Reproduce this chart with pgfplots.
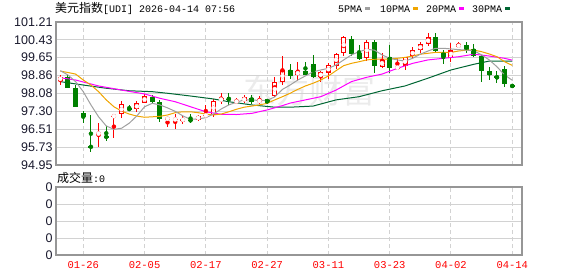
\documentclass[border=0pt]{standalone}
\usepackage{pgfplots}
\pgfplotsset{compat=1.18}
\usepackage{pgfplotstable}
\usepackage{fontspec}
\setmainfont{Liberation Sans}
\newfontfamily\cjk{Noto Sans CJK SC}
\newfontfamily\mono{Liberation Mono}
\definecolor{cred}{RGB}{255,0,0}
\definecolor{cgreen}{RGB}{0,128,0}
\definecolor{ma5}{RGB}{160,160,160}
\definecolor{ma10}{RGB}{240,165,0}
\definecolor{ma20}{RGB}{255,0,255}
\definecolor{ma30}{RGB}{0,102,51}
\definecolor{gridc}{RGB}{210,210,210}
\definecolor{framec}{RGB}{150,150,150}
\definecolor{tickc}{RGB}{25,25,45}

\pgfplotstableread{
i o h l c
0 98.63 98.89 98.45 98.82
5 96.31 96.78 95.75 96.34
7 97.08 97.12 96.14 97.10
8 97.17 97.77 96.99 97.61
10 97.39 97.77 97.28 97.65
11 97.68 98.04 97.65 97.97
14 96.96 97.00 96.63 96.99
15 96.94 97.17 96.51 96.95
16 96.92 97.10 96.75 96.94
18 96.93 97.16 96.86 97.10
19 97.10 97.56 97.06 97.14
20 97.16 97.84 97.06 97.74
21 97.76 98.12 97.60 97.87
23 97.72 97.90 97.60 97.74
24 97.74 98.00 97.68 97.91
26 97.71 97.97 97.62 97.80
28 97.97 98.79 97.91 98.58
29 98.58 99.72 98.47 99.11
31 98.88 99.46 98.62 99.06
34 98.80 99.08 98.58 99.00
35 98.97 99.40 98.73 99.31
36 99.30 99.84 99.17 99.81
37 99.87 100.61 99.71 100.55
40 99.63 100.42 99.52 100.32
42 99.26 99.84 99.18 99.55
44 99.17 99.63 99.14 99.26
45 99.29 99.69 99.11 99.66
46 99.72 100.10 99.58 99.98
47 99.98 100.33 99.87 100.23
48 100.25 100.72 100.16 100.54
51 99.63 100.30 99.47 100.00
52 100.10 100.33 100.07 100.24
}\up

\pgfplotstableread{
i o h l c
1 98.79 98.88 98.32 98.34
2 98.31 98.45 97.48 97.50
3 97.21 97.33 96.80 97.06
4 95.76 97.14 95.50 95.73
6 96.20 96.66 96.02 96.16
9 97.43 97.57 97.31 97.36
12 97.94 98.02 97.60 97.72
13 97.72 97.79 96.83 96.95
17 96.92 97.17 96.80 96.89
22 97.85 98.12 97.57 97.82
25 97.88 98.03 97.62 97.72
27 97.83 97.86 97.60 97.67
30 99.11 99.37 98.70 98.84
32 99.07 99.46 98.90 98.90
33 99.38 99.77 98.75 98.79
38 100.45 100.58 99.71 99.83
39 99.85 100.21 99.56 99.59
41 100.32 100.40 98.99 99.28
43 99.68 100.20 99.00 99.21
49 100.54 100.72 99.87 99.96
50 99.91 99.98 99.37 99.66
53 100.21 100.35 99.84 100.00
54 100.01 100.23 99.68 99.73
55 99.72 99.77 98.57 99.08
56 99.08 99.25 98.67 98.88
57 98.85 99.05 98.52 98.74
58 99.17 99.28 98.35 98.50
59 98.44 98.44 98.38 98.38
}\down

\begin{document}
\begin{tikzpicture}
\path[use as bounding box] (0pt,0pt) rectangle (578pt,276pt);
% watermark
\node[anchor=center, text=black!8, font=\cjk\fontsize{33}{33}\selectfont, inner sep=0] at (309pt,185pt) {东方财富};
% title
\node[anchor=west, inner sep=0] at (55pt,267.3pt) {{\cjk\fontsize{12}{12}\selectfont 美元指数}{\mono\fontsize{10}{10}\selectfont[UDI] 2026-04-14 07:56}};
% legend
\node[anchor=west, inner sep=0, font=\mono\fontsize{10}{10}\selectfont] at (338pt,267pt) {5PMA};
\draw[ma5, line width=3pt] (365pt,267pt) -- (370pt,267pt);
\node[anchor=west, inner sep=0, font=\mono\fontsize{10}{10}\selectfont] at (380pt,267pt) {10PMA};
\draw[ma10, line width=3pt] (413pt,267pt) -- (418pt,267pt);
\node[anchor=west, inner sep=0, font=\mono\fontsize{10}{10}\selectfont] at (426pt,267pt) {20PMA};
\draw[ma20, line width=3pt] (459pt,267pt) -- (464pt,267pt);
\node[anchor=west, inner sep=0, font=\mono\fontsize{10}{10}\selectfont] at (472pt,267pt) {30PMA};
\draw[ma30, line width=3pt] (505pt,267pt) -- (510pt,267pt);
% volume title
\node[anchor=west, inner sep=0] at (57pt,98.5pt) {{\cjk\fontsize{12}{12}\selectfont 成交量}{\mono\fontsize{10}{10}\selectfont:0}};

\begin{axis}[
  at={(56pt,111pt)}, anchor=south west,
  width=466pt, height=143pt, scale only axis,
  xmin=-0.56, xmax=60.27, ymin=94.95, ymax=101.21,
  xtick={3,11,19,27,35,43,51,59}, xticklabels={,,,,,,,},
  ytick={94.95,95.73,96.51,97.30,98.08,98.86,99.65,100.43,101.21},
  yticklabels={94.95,95.73,96.51,97.30,98.08,98.86,99.65,100.43,101.21},
  major tick length=0pt,
  xmajorgrids, ymajorgrids,
  x grid style={gridc, line width=1pt, dash pattern=on 4pt off 3pt},
  y grid style={gridc, line width=1pt},
  axis line style={framec, line width=1.3pt},
  yticklabel style={font=\fontsize{12.5}{13}\selectfont, text=tickc, /pgf/number format/assume math mode=true},
]
% up candles: wick, body outline, white interior
\addplot[cred, only marks, mark=none, forget plot,
  error bars/.cd, y dir=both, y explicit, error mark=none,
  error bar style={color=cred, line width=1pt, solid}]
  table[x=i, y expr={(\thisrow{h}+\thisrow{l})/2}, y error expr={(\thisrow{h}-\thisrow{l})/2}] {\up};
\addplot[cred, only marks, mark=none, forget plot,
  error bars/.cd, y dir=both, y explicit, error mark=none,
  error bar style={color=cred, line width=5pt, solid}]
  table[x=i, y expr={(\thisrow{o}+\thisrow{c})/2}, y error expr={max(abs(\thisrow{c}-\thisrow{o})/2,0.022)}] {\up};
\addplot[white, only marks, mark=none, forget plot,
  error bars/.cd, y dir=both, y explicit, error mark=none,
  error bar style={color=white, line width=3pt, solid}]
  table[x=i, y expr={(\thisrow{o}+\thisrow{c})/2}, y error expr={max(abs(\thisrow{c}-\thisrow{o})/2-0.044,0)}] {\up};
% down candles: wick, filled body
\addplot[cgreen, only marks, mark=none, forget plot,
  error bars/.cd, y dir=both, y explicit, error mark=none,
  error bar style={color=cgreen, line width=1pt, solid}]
  table[x=i, y expr={(\thisrow{h}+\thisrow{l})/2}, y error expr={(\thisrow{h}-\thisrow{l})/2}] {\down};
\addplot[cgreen, only marks, mark=none, forget plot,
  error bars/.cd, y dir=both, y explicit, error mark=none,
  error bar style={color=cgreen, line width=5pt, solid}]
  table[x=i, y expr={(\thisrow{o}+\thisrow{c})/2}, y error expr={max(abs(\thisrow{c}-\thisrow{o})/2,0.022)}] {\down};
% moving averages
\addplot[ma30, line width=1pt, mark=none] coordinates {
(0,98.60)(3,98.45)(6,98.31)(9,98.20)(12,98.16)(14,98.09)(17,97.97)(20,97.84)(22,97.72)(25,97.58)(28,97.48)(30,97.48)(33,97.53)(36,97.80)(39,97.94)(42,98.20)(45,98.41)(48,98.75)(51,99.11)(54,99.36)(56,99.50)(59,99.50)};
\addplot[ma20, line width=1pt, mark=none] coordinates {
(0,98.77)(2,98.67)(5,98.41)(8,98.23)(11,98.06)(13,97.87)(15,97.72)(17,97.50)(19,97.28)(21,97.17)(23,97.16)(25,97.21)(27,97.36)(29,97.55)(30,97.66)(32,97.80)(34,97.94)(36,98.23)(38,98.60)(40,98.79)(42,98.93)(44,99.18)(46,99.40)(48,99.55)(50,99.62)(52,99.69)(54,99.80)(56,99.72)(58,99.62)(59,99.54)};
\addplot[ma10, line width=1pt, mark=none] coordinates {
(0,99.06)(1,99.00)(2,98.93)(3,98.67)(4,98.45)(5,98.16)(6,97.80)(7,97.50)(8,97.31)(9,97.18)(10,97.09)(11,97.04)(12,97.06)(13,97.08)(14,97.14)(15,97.24)(16,97.28)(17,97.28)(18,97.24)(19,97.18)(20,97.14)(21,97.18)(22,97.28)(23,97.39)(24,97.48)(25,97.53)(26,97.58)(27,97.65)(28,97.80)(29,97.94)(30,98.09)(31,98.26)(32,98.41)(33,98.53)(34,98.67)(35,98.85)(36,99.08)(37,99.30)(38,99.40)(39,99.47)(40,99.55)(41,99.58)(42,99.58)(43,99.59)(44,99.62)(45,99.66)(46,99.72)(47,99.80)(48,99.84)(49,99.88)(50,99.88)(51,99.88)(52,99.94)(53,99.98)(54,99.98)(55,99.91)(56,99.81)(57,99.69)(58,99.47)(59,99.31)};
\addplot[ma5, line width=1pt, mark=none] coordinates {
(0,99.08)(1,98.89)(2,98.60)(3,98.16)(4,97.58)(5,97.06)(6,96.66)(7,96.51)(8,96.56)(9,96.78)(10,97.10)(11,97.50)(12,97.65)(13,97.58)(14,97.45)(15,97.30)(16,97.10)(17,96.95)(18,96.97)(19,97.02)(20,97.18)(21,97.40)(22,97.58)(23,97.70)(24,97.80)(25,97.80)(26,97.77)(27,97.78)(28,97.93)(29,98.26)(30,98.45)(31,98.67)(32,98.85)(33,99.03)(34,99.11)(35,99.18)(36,99.33)(37,99.55)(38,99.77)(39,99.91)(40,100.01)(41,99.98)(42,99.77)(43,99.62)(44,99.55)(45,99.50)(46,99.62)(47,99.80)(48,99.94)(49,100.06)(50,100.06)(51,100.03)(52,100.00)(53,99.98)(54,99.95)(55,99.77)(56,99.55)(57,99.25)(58,98.89)(59,98.66)};
\end{axis}

\begin{axis}[
  at={(56pt,21pt)}, anchor=south west,
  width=466pt, height=68pt, scale only axis,
  xmin=-0.56, xmax=60.27, ymin=0, ymax=4,
  xtick={3,11,19,27,35,43,51,59},
  xticklabels={01-26,02-05,02-17,02-27,03-11,03-23,04-02,04-14},
  xticklabel style={text=cred, font=\mono\fontsize{10.5}{10.5}\selectfont, yshift=-2.5pt},
  ytick={0,1,2,3,4}, yticklabels={0,0,0,0,0},
  major tick length=0pt,
  xmajorgrids, ymajorgrids,
  x grid style={gridc, line width=1pt, dash pattern=on 4pt off 3pt},
  y grid style={gridc, line width=1pt},
  axis line style={framec, line width=1.3pt},
  yticklabel style={font=\fontsize{12.5}{13}\selectfont, text=tickc, /pgf/number format/assume math mode=true},
]
\addplot[draw=none, mark=none, forget plot] coordinates {(0,0)(59,0)};
\end{axis}
\end{tikzpicture}
\end{document}
